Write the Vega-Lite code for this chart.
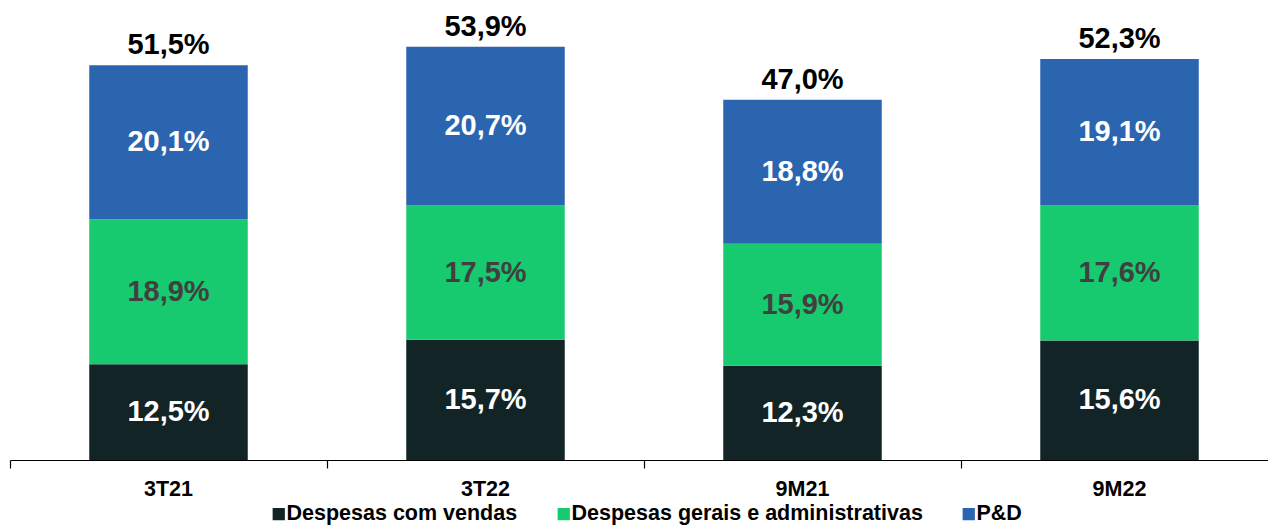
{
  "$schema": "https://vega.github.io/schema/vega-lite/v6.json",
  "width": 1268,
  "height": 460,
  "autosize": {"type": "none"},
  "padding": {"left": 10, "top": 0, "right": 0, "bottom": 66},
  "background": "white",
  "config": {
    "font": "Liberation Sans",
    "view": {"stroke": null}
  },
  "datasets": {
    "segs": [
      {"cat": "3T21", "series": "Despesas com vendas", "order": 1, "value": 12.5, "label": "12,5%"},
      {"cat": "3T21", "series": "Despesas gerais e administrativas", "order": 2, "value": 18.9, "label": "18,9%"},
      {"cat": "3T21", "series": "P&D", "order": 3, "value": 20.1, "label": "20,1%"},
      {"cat": "3T22", "series": "Despesas com vendas", "order": 1, "value": 15.7, "label": "15,7%"},
      {"cat": "3T22", "series": "Despesas gerais e administrativas", "order": 2, "value": 17.5, "label": "17,5%"},
      {"cat": "3T22", "series": "P&D", "order": 3, "value": 20.7, "label": "20,7%"},
      {"cat": "9M21", "series": "Despesas com vendas", "order": 1, "value": 12.3, "label": "12,3%"},
      {"cat": "9M21", "series": "Despesas gerais e administrativas", "order": 2, "value": 15.9, "label": "15,9%"},
      {"cat": "9M21", "series": "P&D", "order": 3, "value": 18.8, "label": "18,8%"},
      {"cat": "9M22", "series": "Despesas com vendas", "order": 1, "value": 15.6, "label": "15,6%"},
      {"cat": "9M22", "series": "Despesas gerais e administrativas", "order": 2, "value": 17.6, "label": "17,6%"},
      {"cat": "9M22", "series": "P&D", "order": 3, "value": 19.1, "label": "19,1%"}
    ],
    "totals": [
      {"cat": "3T21", "total": 51.5, "label": "51,5%"},
      {"cat": "3T22", "total": 53.9, "label": "53,9%"},
      {"cat": "9M21", "total": 47.0, "label": "47,0%"},
      {"cat": "9M22", "total": 52.3, "label": "52,3%"}
    ]
  },
  "layer": [
    {
      "data": {"name": "segs"},
      "mark": {"type": "bar", "width": {"band": 0.5}},
      "encoding": {
        "x": {
          "field": "cat", "type": "nominal", "title": null,
          "scale": {"paddingInner": 0, "paddingOuter": 0},
          "axis": {
            "labelAngle": 0, "labelFont": "Liberation Sans", "labelFontWeight": "bold",
            "labelFontSize": 21.5, "labelColor": "#000000", "labelPadding": 10,
            "domainColor": "#000000", "domainWidth": 1.2, "tickColor": "#000000",
            "tickWidth": 1.2, "tickSize": 8, "bandPosition": 0
          }
        },
        "y": {
          "field": "value", "type": "quantitative", "stack": "zero",
          "scale": {"domain": [0, 60]}, "axis": null
        },
        "order": {"field": "order", "type": "quantitative"},
        "color": {
          "field": "series", "type": "nominal",
          "scale": {
            "domain": ["Despesas com vendas", "Despesas gerais e administrativas", "P&D"],
            "range": ["#122426", "#17C96F", "#2B65B0"]
          },
          "legend": {
            "title": null, "orient": "none", "direction": "horizontal",
            "legendX": 258, "legendY": 503,
            "symbolType": "square", "symbolSize": 150, "symbolStrokeWidth": 0,
            "labelFont": "Liberation Sans", "labelFontWeight": "bold", "labelFontSize": 21.5,
            "labelColor": "#000000", "labelOffset": -3, "columnPadding": 35, "labelLimit": 600
          }
        }
      }
    },
    {
      "data": {"name": "segs"},
      "transform": [
        {"stack": "value", "groupby": ["cat"], "sort": [{"field": "order"}], "as": ["v0", "v1"]},
        {"fold": ["v0", "v1"], "as": ["edge", "pos"]}
      ],
      "mark": {"type": "text", "font": "Liberation Sans", "fontWeight": "bold", "fontSize": 29, "baseline": "middle"},
      "encoding": {
        "x": {"field": "cat", "type": "nominal"},
        "y": {"field": "pos", "type": "quantitative", "aggregate": "mean"},
        "detail": {"field": "series", "type": "nominal"},
        "text": {"field": "label", "type": "nominal"},
        "color": {
          "condition": {"test": "datum.series === 'Despesas gerais e administrativas'", "value": "#404040"},
          "value": "#ffffff"
        }
      }
    },
    {
      "data": {"name": "totals"},
      "mark": {"type": "text", "font": "Liberation Sans", "fontWeight": "bold", "fontSize": 29, "baseline": "bottom", "dy": -5, "color": "#000000"},
      "encoding": {
        "x": {"field": "cat", "type": "nominal"},
        "y": {"field": "total", "type": "quantitative"},
        "text": {"field": "label", "type": "nominal"}
      }
    }
  ]
}
